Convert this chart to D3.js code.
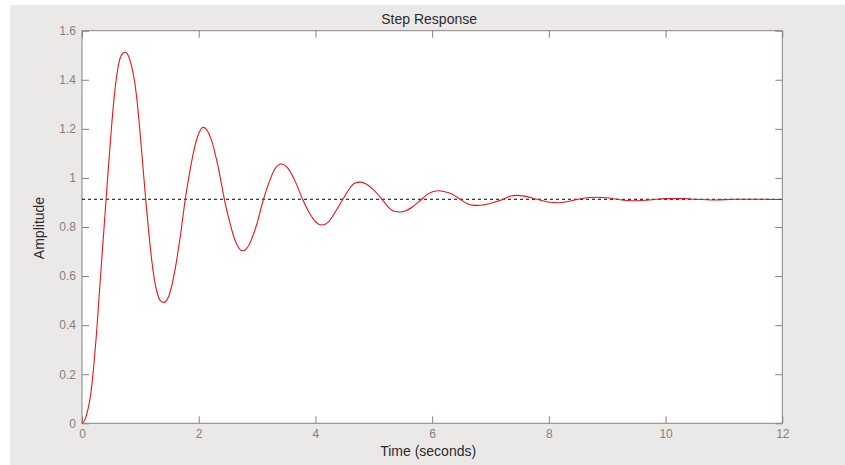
<!DOCTYPE html>
<html>
<head>
<meta charset="utf-8">
<script src="https://cdn.jsdelivr.net/npm/d3@7"></script>
<style>
  body { margin: 0; background: #fff; }
  svg text { font-family: "Liberation Sans", Arial, sans-serif; }
</style>
</head>
<body>
<svg id="chart" width="845" height="465"></svg>
<script>
// values
var timeS = [0, 0.05, 0.10, 0.15, 0.20, 0.25, 0.30, 0.35, 0.40, 0.45, 0.50, 0.55, 0.60, 0.65, 0.70, 0.737,
  0.80, 0.85, 0.90, 0.95, 1.00, 1.05, 1.10, 1.15, 1.20, 1.25, 1.30, 1.35, 1.406,
  1.50, 1.59, 1.68, 1.77, 1.85, 1.94, 2.08, 2.22, 2.33, 2.44, 2.53, 2.63, 2.75,
  2.87, 2.98, 3.11, 3.22, 3.30, 3.41, 3.52, 3.65, 3.78, 3.90, 4.00, 4.11,
  4.22, 4.35, 4.47, 4.58, 4.67, 4.77, 4.87, 5.00, 5.14, 5.26, 5.35, 5.45,
  5.55, 5.68, 5.82, 5.93, 6.02, 6.11, 6.20, 6.33, 6.48, 6.60, 6.70, 6.79,
  6.90, 7.05, 7.22, 7.33, 7.45, 7.58, 7.80, 7.98, 8.17, 8.33, 8.50, 8.65, 8.82,
  8.98, 9.17, 9.33, 9.51, 9.68, 9.84, 10.0, 10.17, 10.33, 10.50, 10.85, 11.2, 11.6, 12];
var amplitude = [0, 0.015, 0.055, 0.12, 0.23, 0.37, 0.54, 0.705, 0.87, 1.035, 1.19, 1.325, 1.425, 1.485, 1.508, 1.512,
  1.495, 1.455, 1.395, 1.30, 1.17, 1.03, 0.89, 0.765, 0.655, 0.572, 0.522, 0.498, 0.493,
  0.527, 0.62, 0.755, 0.913, 1.03, 1.135, 1.206, 1.153, 1.048, 0.913, 0.821, 0.741, 0.703,
  0.731, 0.80, 0.913, 0.991, 1.035, 1.057, 1.042, 0.988, 0.913, 0.856, 0.822, 0.808,
  0.82, 0.865, 0.913, 0.955, 0.978, 0.983, 0.975, 0.95, 0.913, 0.878, 0.864, 0.861,
  0.866, 0.885, 0.913, 0.935, 0.945, 0.948, 0.945, 0.935, 0.913, 0.895, 0.889, 0.888,
  0.891, 0.90, 0.913, 0.925, 0.929, 0.926, 0.913, 0.902, 0.899, 0.904, 0.913, 0.919, 0.921,
  0.919, 0.913, 0.908, 0.907, 0.909, 0.913, 0.9155, 0.916, 0.9155, 0.913, 0.910, 0.913, 0.913, 0.912];
var steadyState = 0.913;
var xTicks = [0, 2, 4, 6, 8, 10, 12];
var yTicks = [0, 0.2, 0.4, 0.6, 0.8, 1, 1.2, 1.4, 1.6];

var axisColor = '#8c8080';
var labelColor = '#8a7e7f';
var plot = { left: 82, top: 30.7, right: 782.3, bottom: 423.3 };
var tickLen = 7;

var svg = d3.select('#chart');

// figure background
svg.append('rect')
  .attr('x', 10).attr('y', 5)
  .attr('width', 835).attr('height', 460)
  .attr('fill', '#ebe8e8');

svg.append('rect')
  .attr('x', plot.left).attr('y', plot.top)
  .attr('width', plot.right - plot.left)
  .attr('height', plot.bottom - plot.top)
  .attr('fill', '#ffffff');

var x = d3.scaleLinear().domain([0, 12]).range([plot.left, plot.right]);
var y = d3.scaleLinear().domain([0, 1.6]).range([plot.bottom, plot.top]);

function styleAxis(g, showLabels) {
  g.select('.domain').remove();
  g.selectAll('line').attr('stroke', axisColor);
  g.selectAll('text')
    .attr('fill', labelColor)
    .style('font-size', '12px')
    .attr('opacity', showLabels ? 1 : 0);
}

var fmt = function (d) { return String(+d.toFixed(1)); };

// bottom + top (mirror) ticks, pointing inward
svg.append('g')
  .attr('transform', 'translate(0,' + plot.bottom + ')')
  .call(d3.axisBottom(x).tickValues(xTicks).tickFormat(fmt).tickSizeInner(-tickLen).tickPadding(6))
  .call(function (g) { styleAxis(g, true); });
svg.append('g')
  .attr('transform', 'translate(0,' + plot.top + ')')
  .call(d3.axisTop(x).tickValues(xTicks).tickSizeInner(-tickLen))
  .call(function (g) { styleAxis(g, false); });

// left + right ticks
svg.append('g')
  .attr('transform', 'translate(' + plot.left + ',0)')
  .call(d3.axisLeft(y).tickValues(yTicks).tickFormat(fmt).tickSizeInner(-tickLen).tickPadding(6))
  .call(function (g) { styleAxis(g, true); });
svg.append('g')
  .attr('transform', 'translate(' + plot.right + ',0)')
  .call(d3.axisRight(y).tickValues(yTicks).tickSizeInner(-tickLen))
  .call(function (g) { styleAxis(g, false); });

// plot box
svg.append('rect')
  .attr('x', plot.left).attr('y', plot.top)
  .attr('width', plot.right - plot.left)
  .attr('height', plot.bottom - plot.top)
  .attr('fill', 'none')
  .attr('stroke', axisColor)
  .attr('stroke-width', 1);

// steady state reference
svg.append('line')
  .attr('x1', x(0)).attr('x2', x(12))
  .attr('y1', y(steadyState)).attr('y2', y(steadyState))
  .attr('stroke', '#000')
  .attr('stroke-width', 1)
  .attr('stroke-dasharray', '3,3');

var points = timeS.map(function (t, i) { return [t, amplitude[i]]; });

var line = d3.line()
  .x(function (d) { return x(d[0]); })
  .y(function (d) { return y(d[1]); })
  .curve(d3.curveMonotoneX);

svg.append('path')
  .datum(points)
  .attr('d', line)
  .attr('fill', 'none')
  .attr('stroke', '#e8141c')
  .attr('stroke-width', 1.1);

// labels
svg.append('text')
  .attr('x', (plot.left + plot.right) / 2 - 3).attr('y', 23.5)
  .attr('text-anchor', 'middle')
  .attr('fill', '#2b2b2b')
  .style('font-size', '14px')
  .text('Step Response');

svg.append('text')
  .attr('x', (plot.left + plot.right) / 2 - 4).attr('y', 456)
  .attr('text-anchor', 'middle')
  .attr('fill', '#2b2b2b')
  .style('font-size', '14px')
  .text('Time (seconds)');

svg.append('text')
  .attr('transform', 'translate(44,' + ((plot.top + plot.bottom) / 2 + 1) + ') rotate(-90)')
  .attr('text-anchor', 'middle')
  .attr('fill', '#2b2b2b')
  .style('font-size', '14px')
  .text('Amplitude');
</script>
</body>
</html>
